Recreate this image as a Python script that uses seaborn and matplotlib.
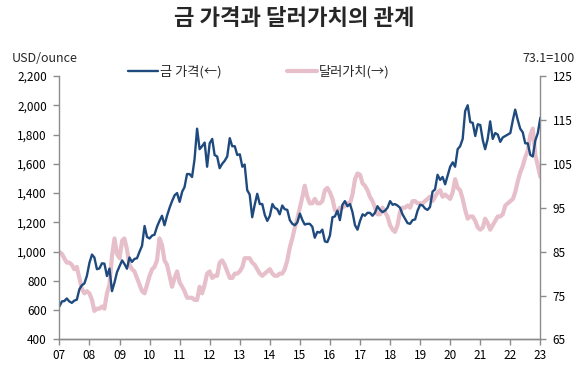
import pandas as pd
import seaborn as sns
import matplotlib.pyplot as plt
from matplotlib.ticker import FuncFormatter

# monthly values, Jan 2007 .. Jan 2023
gold = [
    625, 660, 662, 680, 660, 650, 665, 672, 743, 770, 783, 834,      # 2007
    923, 980, 960, 880, 885, 920, 918, 833, 884, 730, 790, 860,      # 2008
    900, 940, 916, 883, 960, 930, 950, 955, 1000, 1040, 1175, 1100,  # 2009
    1090, 1110, 1115, 1170, 1210, 1245, 1180, 1245, 1300, 1345, 1385, 1400,  # 2010
    1340, 1410, 1440, 1530, 1530, 1510, 1630, 1840, 1700, 1720, 1745, 1580,  # 2011
    1740, 1770, 1660, 1650, 1570, 1600, 1620, 1650, 1775, 1720, 1720, 1660,  # 2012
    1665, 1580, 1595, 1420, 1390, 1235, 1320, 1395, 1325, 1325, 1250, 1210,  # 2013
    1245, 1325, 1300, 1290, 1255, 1315, 1290, 1285, 1215, 1190, 1180, 1200,  # 2014
    1260, 1215, 1185, 1190, 1190, 1170, 1095, 1135, 1130, 1150, 1070, 1065,  # 2015
    1110, 1235, 1240, 1280, 1215, 1320, 1345, 1310, 1325, 1270, 1180, 1150,  # 2016
    1210, 1255, 1245, 1265, 1265, 1245, 1265, 1310, 1285, 1270, 1280, 1300,  # 2017
    1345, 1320, 1325, 1315, 1300, 1255, 1225, 1195, 1190, 1215, 1220, 1280,  # 2018
    1320, 1315, 1295, 1285, 1305, 1410, 1425, 1525, 1490, 1510, 1460, 1520,  # 2019
    1580, 1610, 1580, 1700, 1720, 1770, 1960, 2000, 1885, 1880, 1790, 1870,  # 2020
    1865, 1760, 1700, 1770, 1890, 1770, 1810, 1800, 1750, 1780, 1790, 1800,  # 2021
    1810, 1900, 1970, 1900, 1840, 1815, 1740, 1740, 1660, 1650, 1760, 1810,  # 2022
    1915,                                                             # 2023
]
dollar = [
    84.9, 84.5, 83.5, 82.5, 82.5, 82.0, 81.0, 81.5, 79.0, 76.5, 75.5, 76.0,  # 2007
    75.5, 74.0, 71.5, 72.0, 72.0, 72.5, 72.0, 75.5, 77.5, 84.0, 88.0, 84.5,  # 2008
    83.5, 87.5, 88.0, 85.5, 82.0, 81.0, 80.5, 79.0, 77.5, 76.0, 75.5, 77.5,  # 2009
    79.5, 81.0, 81.5, 83.0, 88.0, 86.5, 83.0, 82.0, 79.5, 77.0, 79.0, 80.5,  # 2010
    78.0, 77.0, 76.0, 74.5, 74.5, 74.5, 74.0, 74.0, 77.0, 75.5, 77.5, 80.0,  # 2011
    80.5, 79.0, 79.5, 79.5, 82.5, 83.0, 82.0, 80.5, 79.0, 79.0, 80.0, 80.0,  # 2012
    80.5, 81.5, 83.5, 83.5, 83.5, 82.5, 82.0, 81.0, 80.0, 79.5, 80.0, 80.5,  # 2013
    81.0, 80.0, 79.5, 79.5, 80.0, 80.0, 81.0, 83.0, 86.0, 88.0, 90.5, 92.5,  # 2014
    95.0, 97.5, 100.0, 97.5, 96.0, 96.0, 97.0, 96.0, 96.0, 96.5, 99.0, 99.5,  # 2015
    98.5, 97.0, 94.5, 94.0, 95.0, 95.0, 95.5, 96.0, 96.0, 98.0, 101.5, 102.8,  # 2016
    102.5, 100.5, 100.0, 99.0, 97.5, 96.5, 95.0, 93.5, 93.5, 95.0, 94.0, 93.0,  # 2017
    91.0, 90.0, 89.5, 91.0, 94.0, 95.0, 95.0, 95.5, 95.0, 96.5, 96.5, 96.0,  # 2018
    96.0, 96.0, 96.5, 97.0, 97.5, 96.5, 97.5, 98.5, 99.0, 97.5, 98.0, 97.5,  # 2019
    97.0, 98.5, 101.5, 99.5, 99.0, 97.0, 94.5, 92.5, 93.0, 93.0, 92.0, 90.5,  # 2020
    90.0, 90.5, 92.5, 91.5, 90.0, 91.0, 92.0, 93.0, 93.0, 93.5, 95.5, 96.0,  # 2021
    96.5, 97.0, 98.5, 101.0, 103.0, 104.5, 106.5, 108.0, 111.5, 113.0, 107.0, 104.5,  # 2022
    102.0,                                                            # 2023
]
gold_ticks = list(range(400, 2201, 200))
dollar_ticks = list(range(65, 126, 10))
year_labels = ['%02d' % y for y in range(7, 24)]

dates = pd.date_range('2007-01-01', periods=len(gold), freq='MS')
df = pd.DataFrame({'date': dates, 'gold': gold, 'dollar': dollar})

sns.set_style('white')
plt.rcParams['font.family'] = ['Noto Sans CJK KR', 'DejaVu Sans']

navy = '#1f4a7e'
pink = '#e6bfca'
grey = '#8c8c8c'

fig = plt.figure(figsize=(5.88, 3.78), dpi=100)
ax = fig.add_axes([0.101, 0.102, 0.818, 0.697])
ax2 = ax.twinx()

sns.lineplot(data=df, x='date', y='dollar', ax=ax2, color=pink, linewidth=3.0, label='달러가치(→)')
sns.lineplot(data=df, x='date', y='gold', ax=ax, color=navy, linewidth=1.7, label='금 가격(←)')

# gold line drawn on top of the dollar line
ax.set_zorder(ax2.get_zorder() + 1)
ax.patch.set_visible(False)

ax.set_ylim(400, 2200)
ax.set_yticks(gold_ticks)
ax.yaxis.set_major_formatter(FuncFormatter(lambda v, p: f'{int(v):,}'))
ax2.set_ylim(65, 125)
ax2.set_yticks(dollar_ticks)

ax.set_xlim(pd.Timestamp('2007-01-01'), pd.Timestamp('2023-01-01'))
ax.set_xticks(pd.date_range('2007-01-01', '2023-01-01', freq='YS'))
ax.set_xticklabels(year_labels)

for a in (ax, ax2):
    a.set_xlabel('')
    a.set_ylabel('')
    a.spines['top'].set_visible(False)
    for s in ('left', 'right', 'bottom'):
        a.spines[s].set_color(grey)
        a.spines[s].set_linewidth(1.0)
    a.tick_params(axis='both', length=4, width=1.0, color=grey, labelsize=8.5,
                  labelcolor='black', pad=3)
    if a.get_legend() is not None:
        a.get_legend().remove()
ax.spines['right'].set_visible(False)
ax2.spines['left'].set_visible(False)
ax.tick_params(axis='y', left=True, pad=5)
ax.tick_params(axis='x', bottom=True)
ax2.tick_params(axis='y', right=True, pad=5)

h1, l1 = ax.get_legend_handles_labels()
h2, l2 = ax2.get_legend_handles_labels()
fig.legend(h1 + h2, l1 + l2, loc='center', bbox_to_anchor=(0.44, 0.81), ncol=2,
           frameon=False, fontsize=9.5, handlelength=2.3, handletextpad=0.1,
           columnspacing=5.0)

fig.text(0.5, 0.952, '금 가격과 달러가치의 관계', ha='center', va='center',
         fontsize=16, fontweight='bold')
fig.text(0.02, 0.845, 'USD/ounce', ha='left', va='center', fontsize=9)
fig.text(0.978, 0.845, '73.1=100', ha='right', va='center', fontsize=9)

fig.savefig('out.png', dpi=100)
